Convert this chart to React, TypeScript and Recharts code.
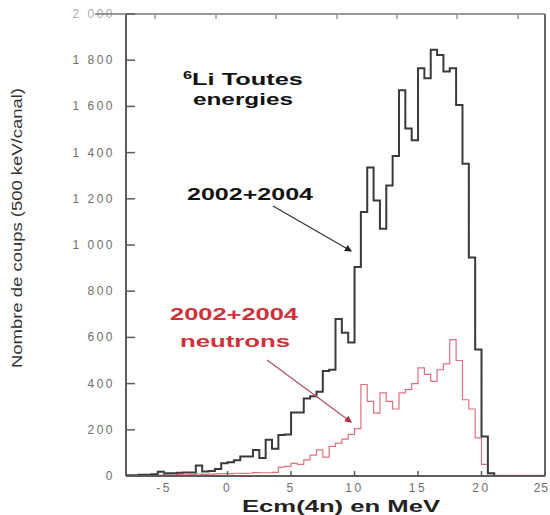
import React from 'react';
import { LineChart, Line, XAxis, YAxis, ReferenceLine } from 'recharts';

// 0.5 MeV bins starting at -8 MeV
const binStart = -8;
const binWidth = 0.5;

// 2002+2004, all events
const totalCounts = [
  3, 3, 5, 5, 8, 18, 12, 12, 14, 15,
  15, 45, 20, 22, 30, 55, 60, 68, 84, 84,
  113, 78, 157, 118, 178, 180, 275, 275, 335, 345,
  365, 455, 460, 680, 620, 578, 905, 1143, 1335, 1193,
  1070, 1258, 1385, 1670, 1504, 1453, 1765, 1722, 1845, 1823,
  1751, 1765, 1606, 1352, 946, 548, 171, 12, 0, 0,
  0, 0, 0, 0, 0, 0,
];

// 2002+2004, neutrons
const neutronCounts = [
  0, 3, 3, 2, 3, 4, 5, 4, 6, 5,
  6, 8, 7, 8, 9, 10, 10, 12, 11, 12,
  15, 14, 14, 16, 38, 42, 55, 50, 70, 90,
  113, 82, 128, 142, 160, 180, 205, 396, 323, 272,
  360, 323, 290, 360, 374, 400, 468, 440, 410, 460,
  485, 590, 500, 330, 290, 165, 50, 10, 3, 3,
  3, 3, 3, 3, 3, 3,
];

const xTicks = [-5, 0, 5, 10, 15, 20, 25];
const yTicks = [0, 200, 400, 600, 800, 1000, 1200, 1400, 1600, 1800, 2000];

const data = totalCounts.map((c, i) => ({
  e: binStart + i * binWidth,
  total: c,
  neutrons: neutronCounts[i],
}));
data.push({
  e: binStart + totalCounts.length * binWidth,
  total: totalCounts[totalCounts.length - 1],
  neutrons: neutronCounts[neutronCounts.length - 1],
});

const FONT = '"Liberation Sans", Arial, sans-serif';
const AXIS = '#5c5c5c';
const TICK_TEXT = '#6e6e6e';

const fmt = (v: number) =>
  v >= 1000 ? `${Math.floor(v / 1000)} ${String(v % 1000).padStart(3, '0')}` : String(v);

const YTick = ({ x, y, payload }: any) => (
  <text x={x} y={y} dy={4} textAnchor="end" fill={payload.value === 2000 ? '#aaa' : TICK_TEXT}
    fontSize={12} fontFamily={FONT} letterSpacing={2.5}>
    {fmt(payload.value)}
  </text>
);

// last label sits at the right edge, keep it inside the picture
const XTick = ({ x, y, payload }: any) => {
  const last = payload.value === xTicks[xTicks.length - 1];
  return (
    <text x={last ? 549 : x} y={y} dy={9} textAnchor={last ? 'end' : 'middle'} fill={TICK_TEXT}
      fontSize={12} fontFamily={FONT} letterSpacing={last ? 1 : 2.5}>
      {payload.value}
    </text>
  );
};

// upper frame ticks (secondary scale, labels cropped in the original)
const topTickX = [155, 216, 276, 337, 397, 457, 518];

const Overlay = () => (
  <svg width={550} height={515} style={{ position: 'absolute', left: 0, top: 0, pointerEvents: 'none' }}>
    <defs>
      <marker id="headK" markerWidth="6" markerHeight="6" refX="5" refY="3" orient="auto">
        <path d="M0,0 L6,3 L0,6 z" fill="#222" />
      </marker>
      <marker id="headR" markerWidth="6" markerHeight="6" refX="5" refY="3" orient="auto">
        <path d="M0,0 L6,3 L0,6 z" fill="#b03040" />
      </marker>
    </defs>
    <line x1={95} y1={14} x2={126} y2={14} stroke="#777" strokeWidth={1.5} />
    {topTickX.map((tx) => (
      <line key={tx} x1={tx} y1={14} x2={tx} y2={19} stroke="#999" strokeWidth={1.5} />
    ))}
    <text x={17} y={228} transform="rotate(-90 17 228)" textAnchor="middle" dy={5}
      fontFamily={FONT} fontSize={14} fill="#333" textLength={280} lengthAdjust="spacingAndGlyphs">
      Nombre de coups (500 keV/canal)
    </text>
    <text x={341} y={512} textAnchor="middle" fontFamily={FONT} fontSize={17} fontWeight="bold"
      fill="#222" textLength={198} lengthAdjust="spacingAndGlyphs">
      Ecm(4n) en MeV
    </text>
    <text x={243} y={85} textAnchor="middle" fontFamily={FONT} fontSize={17} fontWeight="bold"
      fill="#111" textLength={120} lengthAdjust="spacingAndGlyphs">
      <tspan fontSize={11} dy={-6}>6</tspan>
      <tspan dy={6}>Li Toutes</tspan>
    </text>
    <text x={243} y={105} textAnchor="middle" fontFamily={FONT} fontSize={17} fontWeight="bold"
      fill="#111" textLength={100} lengthAdjust="spacingAndGlyphs">
      energies
    </text>
    <text x={250} y={200} textAnchor="middle" fontFamily={FONT} fontSize={16} fontWeight="bold"
      fill="#111" textLength={126} lengthAdjust="spacingAndGlyphs">
      2002+2004
    </text>
    <line x1={273} y1={206} x2={351} y2={251} stroke="#333" strokeWidth={1.2} markerEnd="url(#headK)" />
    <text x={234} y={320} textAnchor="middle" fontFamily={FONT} fontSize={16} fontWeight="bold"
      fill="#d0303a" textLength={128} lengthAdjust="spacingAndGlyphs">
      2002+2004
    </text>
    <text x={235} y={347} textAnchor="middle" fontFamily={FONT} fontSize={17} fontWeight="bold"
      fill="#d0303a" textLength={110} lengthAdjust="spacingAndGlyphs">
      neutrons
    </text>
    <line x1={267} y1={360} x2={351} y2={422} stroke="#b05060" strokeWidth={1.2} markerEnd="url(#headR)" />
  </svg>
);

const App: React.FC = () => (
  <div style={{ position: 'absolute', left: 0, top: 0, width: 550, height: 515, background: '#fff', overflow: 'hidden' }}>
    <LineChart width={550} height={515} data={data} margin={{ top: 14, right: 5, bottom: 0, left: 66 }}>
      <XAxis
        dataKey="e"
        type="number"
        domain={[-8, 25]}
        ticks={xTicks}
        allowDataOverflow
        height={39}
        axisLine={{ stroke: AXIS, strokeWidth: 2 }}
        tickLine={{ stroke: AXIS, strokeWidth: 1.5 }}
        tickSize={-5}
        tickMargin={12}
        tick={<XTick />}
        interval={0}
      />
      <YAxis
        type="number"
        domain={[0, 2000]}
        ticks={yTicks}
        allowDataOverflow
        width={60}
        axisLine={{ stroke: AXIS, strokeWidth: 2 }}
        tickLine={{ stroke: AXIS, strokeWidth: 1.5 }}
        tickSize={-9}
        tickMargin={20}
        tick={<YTick />}
        interval={0}
      />
      <ReferenceLine x={25} stroke="#666" strokeWidth={2} />
      <ReferenceLine y={2000} stroke="#777" strokeWidth={1.5} />
      <Line
        dataKey="neutrons"
        type="stepAfter"
        stroke="#e07080"
        strokeWidth={1.2}
        dot={false}
        isAnimationActive={false}
      />
      <Line
        dataKey="total"
        type="stepAfter"
        stroke="#3a3a3a"
        strokeWidth={2}
        dot={false}
        isAnimationActive={false}
      />
    </LineChart>
    <Overlay />
  </div>
);

export default App;
